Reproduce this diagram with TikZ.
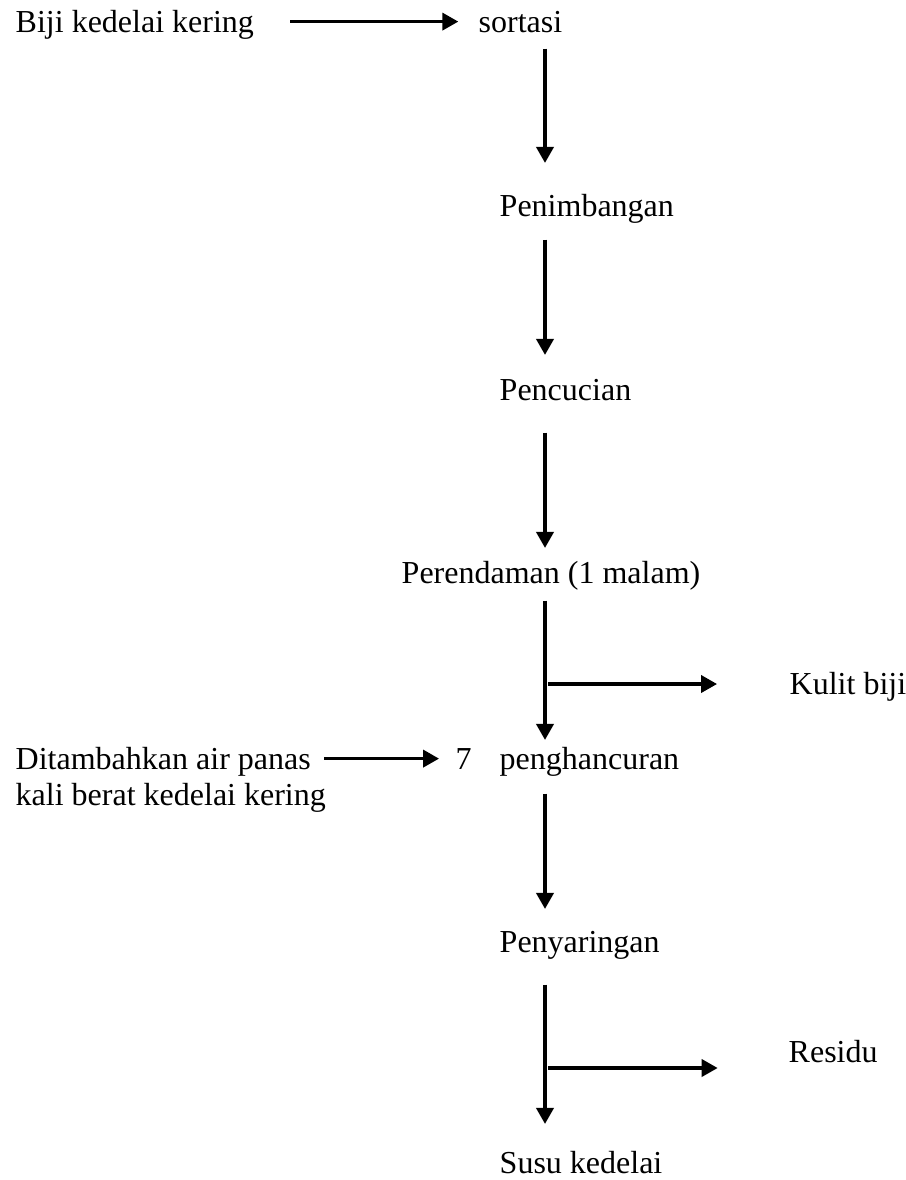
\documentclass[tikz,border=0pt]{standalone}
\usepackage{fontspec}
\setmainfont{Liberation Serif}
\usetikzlibrary{arrows.meta}

\begin{document}
\begin{tikzpicture}[->,>={Triangle[length=6pt,width=6.4pt]},line width=1.3pt,x=0.375pt,y=-0.375pt]
      \tikzstyle{langkah}=[anchor=base west,inner sep=0pt,text height=8pt,text depth=2.6pt,font=\fontsize{12}{14.4}\selectfont]
      \useasboundingbox (0,0) rectangle (905,1180);

      \coordinate (spine) at (545,0);

      \node[langkah] (biji)    at (14,32)   {Biji kedelai kering};
      \node[langkah] (sortasi) at (477,32)  {sortasi};
      \node[langkah] (timbang) at (498,216) {Penimbangan};
      \node[langkah] (cuci)    at (498,400) {Pencucian};
      \node[langkah] (rendam)  at (400,583) {Perendaman (1 malam)};
      \node[langkah] (kulit)   at (788,694) {Kulit biji};
      \node[langkah] (tambah)  at (14,769)  {Ditambahkan air panas};
      \node[langkah] (kali)    at (14,805)  {kali berat kedelai kering};
      \node[langkah] (tujuh)   at (454,769) {7};
      \node[langkah] (hancur)  at (498,769) {penghancuran};
      \node[langkah] (saring)  at (498,952) {Penyaringan};
      \node[langkah] (residu)  at (787,1062) {Residu};
      \node[langkah] (susu)    at (498,1173) {Susu kedelai};

      \coordinate (cabang1) at (548,684);
      \coordinate (cabang2) at (548,1068);

      \draw[shorten <=13pt,shorten >=7pt] ([yshift=1.2pt]biji.east) -- ([yshift=1.2pt]sortasi.west);
      \draw[shorten <=3pt,shorten >=11.25pt] (sortasi.south -| spine) -- (timbang.north -| spine);
      \draw[shorten <=5.6pt,shorten >=8.25pt] (timbang.south -| spine) -- (cuci.north -| spine);
      \draw[shorten <=9pt,shorten >=4.5pt] (cuci.south -| spine) -- (rendam.north -| spine);
      \draw[shorten <=3.4pt,shorten >=2.25pt] (rendam.south -| spine) -- (hancur.north -| spine);
      \draw[shorten >=26.6pt] (cabang1) -- (cabang1 -| kulit.west);
      \draw[shorten <=4.5pt,shorten >=5.6pt] ([yshift=1.2pt]tambah.east) -- ([yshift=1.2pt]tujuh.west);
      \draw[shorten <=6pt,shorten >=7.5pt] (hancur.south -| spine) -- (saring.north -| spine);
      \draw[shorten <=9pt,shorten >=9.75pt] (saring.south -| spine) -- (susu.north -| spine);
      \draw[shorten >=26pt] (cabang2) -- (cabang2 -| residu.west);
  \end{tikzpicture}
\end{document}
